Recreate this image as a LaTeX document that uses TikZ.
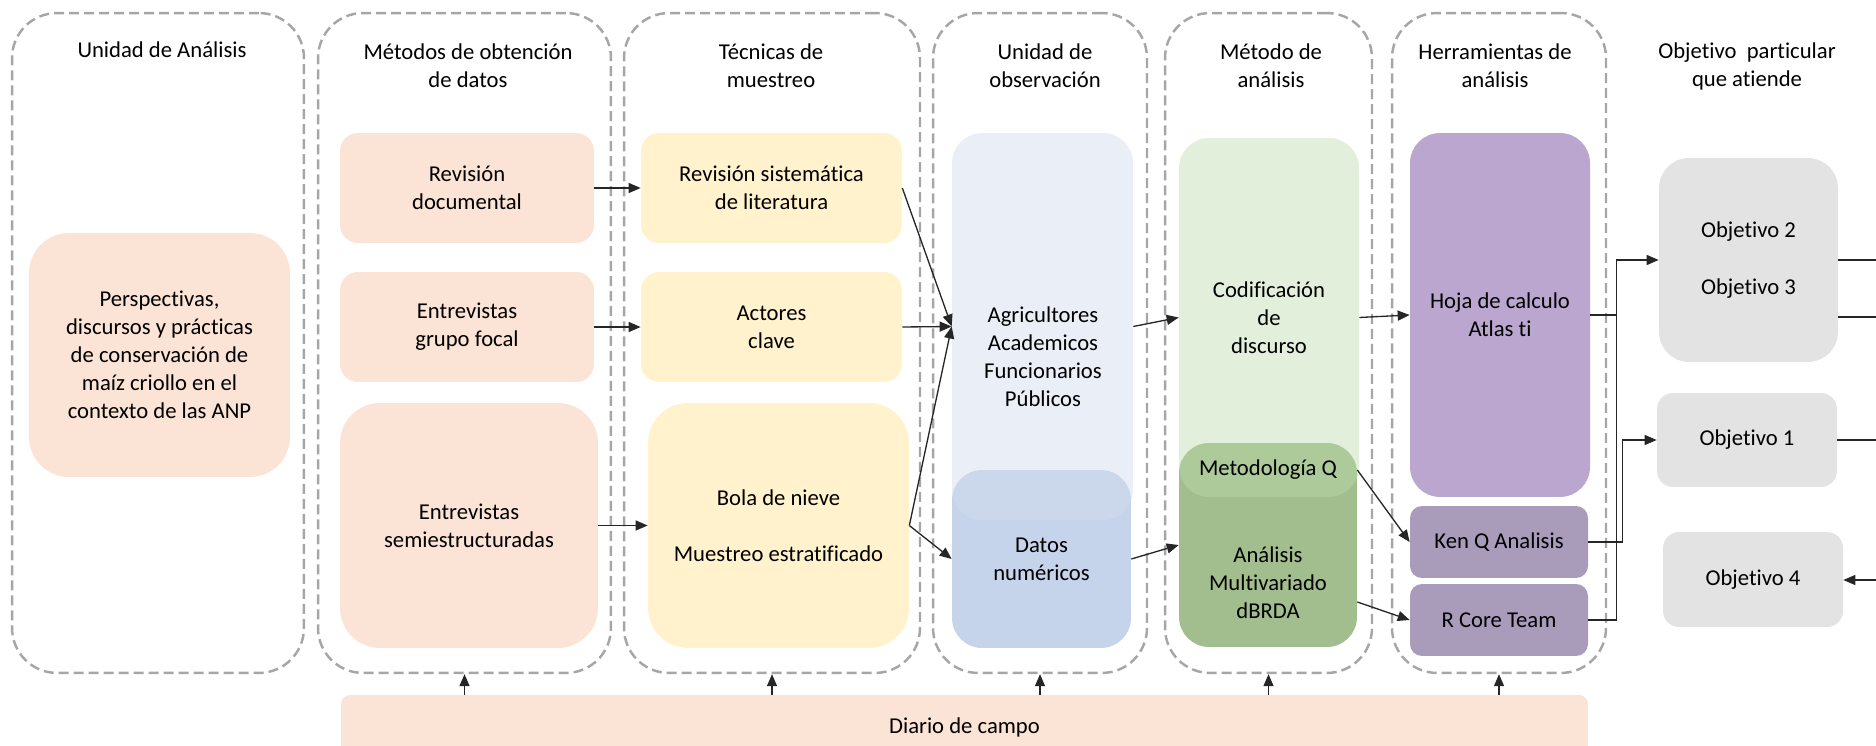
\documentclass[tikz,border=0pt]{standalone}
\usepackage{fontspec}
\setmainfont{Carlito}[Ligatures=NoCommon]
\usetikzlibrary{calc,arrows.meta}
\definecolor{durazno}{HTML}{FBE4D5}
\definecolor{amarillo}{HTML}{FFF2CC}
\definecolor{azulclaro}{HTML}{D3DEEE}
\definecolor{azul}{HTML}{C5D3EB}
\definecolor{verdeclaro}{HTML}{BCDAAA}
\definecolor{verde}{HTML}{A3BE8E}
\definecolor{lila}{HTML}{BAA6CF}
\definecolor{lilaoscuro}{HTML}{A99BBA}
\definecolor{gris}{HTML}{E3E3E3}
\definecolor{borde}{HTML}{A6A6A6}
\tikzstyle{columna} = [rectangle, draw=borde, line width=1.4pt, dash pattern=on 0.2cm off 0.1cm, rounded corners=0.9cm, minimum height=13.2cm]
\tikzstyle{caja} = [rectangle, inner sep=0pt, align=center, font=\fontsize{12.9}{15.9}\selectfont]
\tikzstyle{texto} = [inner sep=0pt, align=center, font=\fontsize{12.9}{15.9}\selectfont]
\tikzstyle{flecha} = [-{Triangle[length=0.24cm,width=0.2cm]}, line width=0.75pt, draw=black!85]
\tikzstyle{linea} = [line width=0.75pt, draw=black!85]

\begin{document}
\begin{tikzpicture}[x=0.02cm, y=-0.02cm]

        \useasboundingbox (0,0) rectangle (1876,746);

        % columnas punteadas
        \node (col1) [columna, minimum width=5.84cm] at (158,343) {};
        \node (col2) [columna, minimum width=5.86cm] at (464.5,343) {};
        \node (col3) [columna, minimum width=5.92cm] at (772,343) {};
        \node (col4) [columna, minimum width=4.28cm] at (1040,343) {};
        \node (col5) [columna, minimum width=4.14cm] at (1268.5,343) {};
        \node (col6) [columna, minimum width=4.28cm] at (1499,343) {};

        \node (t1) [texto] at (162,50) {Unidad de Análisis};
        \node (t2) [texto] at (468,66) {Métodos de obtención\\de datos};
        \node (t3) [texto] at (771,66) {Técnicas de\\muestreo};
        \node (t4) [texto] at (1045,66) {Unidad de\\observación};
        \node (t5) [texto] at (1271,66) {Método de\\análisis};
        \node (t6) [texto] at (1495,66) {Herramientas de\\análisis};
        \node (t7) [texto] at (1747,66) {Objetivo \ particular\\que atiende};

        % unidad de analisis
        \node (persp) [caja, fill=durazno, rounded corners=0.8cm, minimum width=5.22cm, minimum height=4.88cm] at (159.5,355) {Perspectivas,\\discursos y prácticas\\de conservación de\\maíz criollo en el\\contexto de las ANP};

        % metodos
        \node (revdoc) [caja, fill=durazno, rounded corners=0.36cm, minimum width=5.08cm, minimum height=2.2cm] at (467,188) {Revisión\\documental};
        \node (egf) [caja, fill=durazno, rounded corners=0.36cm, minimum width=5.08cm, minimum height=2.2cm] at (467,327) {Entrevistas\\grupo focal};
        \node (esemi) [caja, fill=durazno, rounded corners=0.8cm, minimum width=5.16cm, minimum height=4.9cm] at (469,525.5) {Entrevistas\\semiestructuradas};

        % tecnicas
        \node (revsis) [caja, fill=amarillo, rounded corners=0.36cm, minimum width=5.22cm, minimum height=2.2cm] at (771.5,188) {Revisión sistemática\\de literatura};
        \node (actores) [caja, fill=amarillo, rounded corners=0.36cm, minimum width=5.22cm, minimum height=2.2cm] at (771.5,327) {Actores\\clave};
        \node (bola) [caja, fill=amarillo, rounded corners=0.8cm, minimum width=5.22cm, minimum height=4.9cm] at (778.5,525.5) {Bola de nieve\\[0.56cm]Muestreo estratificado};

        % unidad de observacion
        \node (datos) [caja, fill=azul, rounded corners=0.6cm, minimum width=3.58cm, minimum height=3.56cm] at (1041.5,559) {Datos\\numéricos};
        \node (agri) [caja, fill=azulclaro, fill opacity=0.48, rounded corners=0.6cm, minimum width=3.62cm, minimum height=7.74cm] at (1042.5,326.5) {};
        \node (agritxt) [texto] at (1043,357) {Agricultores\\Academicos\\Funcionarios\\Públicos};

        % metodo de analisis
        \node (mvbox) [caja, fill=verde, rounded corners=0.6cm, minimum width=3.56cm, minimum height=4.08cm] at (1268,545) {};
        \node (cod) [caja, fill=verdeclaro, fill opacity=0.43, text opacity=1, rounded corners=0.6cm, minimum width=3.6cm, minimum height=7.18cm] at (1269,317.5) {Codificación\\de\\discurso};
        \node (metq) [texto, minimum width=3.56cm] at (1268,470) {Metodología Q};
        \node (mv) [texto, minimum width=3.56cm] at (1268,583) {Análisis\\Multivariado\\dBRDA};

        % herramientas
        \node (hoja) [caja, fill=lila, rounded corners=0.6cm, minimum width=3.6cm, minimum height=7.28cm] at (1500,315) {Hoja de calculo\\Atlas ti};
        \node (kenq) [caja, fill=lilaoscuro, rounded corners=0.24cm, minimum width=3.56cm, minimum height=1.44cm] at (1499,542) {Ken Q Analisis};
        \node (rcore) [caja, fill=lilaoscuro, rounded corners=0.24cm, minimum width=3.56cm, minimum height=1.44cm] at (1499,620) {R Core Team};

        % objetivos
        \node (obj23) [caja, fill=gris, rounded corners=0.6cm, minimum width=3.58cm, minimum height=4.08cm] at (1748.5,260) {Objetivo 2\\[0.58cm]Objetivo 3};
        \node (obj1) [caja, fill=gris, rounded corners=0.32cm, minimum width=3.6cm, minimum height=1.88cm] at (1747,440) {Objetivo 1};
        \node (obj4) [caja, fill=gris, rounded corners=0.32cm, minimum width=3.6cm, minimum height=1.9cm] at (1753,579.5) {Objetivo 4};

        \node (diario) [caja, fill=durazno, rounded corners=0.18cm, minimum width=24.94cm, minimum height=1.28cm] at (964.5,727) {Diario de campo};

        \coordinate (s2) at (1876,260);
        \coordinate (s3) at (1876,317);
        \coordinate (s1) at (1876,440);
        \coordinate (s4) at (1876,580);

        \draw[flecha] (revdoc) -- (revsis);
        \draw[flecha] (egf) -- (actores);
        \draw[flecha] (esemi) -- (bola);
        \draw[flecha] (revsis.east) -- (agri.west);
        \draw[flecha] (actores.east) -- (agri.west);
        \draw[flecha] (bola.east) -- (agri.west);
        \draw[flecha] (bola.east) -- (datos.west);
        \draw[flecha] (agri.east) -- (cod.west);
        \draw[flecha] (datos.east) -- (mvbox.west);
        \draw[flecha] (cod.east) -- (hoja.west);
        \draw[flecha] (metq.east) -- (kenq.west);
        \draw[flecha] ($(mv.east)+(0,19)$) -- (rcore.west);

        \draw[flecha] (kenq.east) -- ++(34,0) |- (obj1.west);
        \draw[flecha] (rcore.east) -- ++(28,0) |- (obj23.west);
        \draw[linea] (hoja.east) -- ++(26,0);

        \draw[linea] (obj23.east) -- (s2);
        \draw[linea] (obj23.east |- s3) -- (s3);
        \draw[linea] (obj1.east) -- (s1);
        \draw[flecha] (s4) -- (obj4.east |- s4);

        \foreach \c in {col2,col3,col4,col5,col6}
            \draw[flecha] (diario.north -| \c.south) -- (\c.south);

    \end{tikzpicture}
\end{document}
